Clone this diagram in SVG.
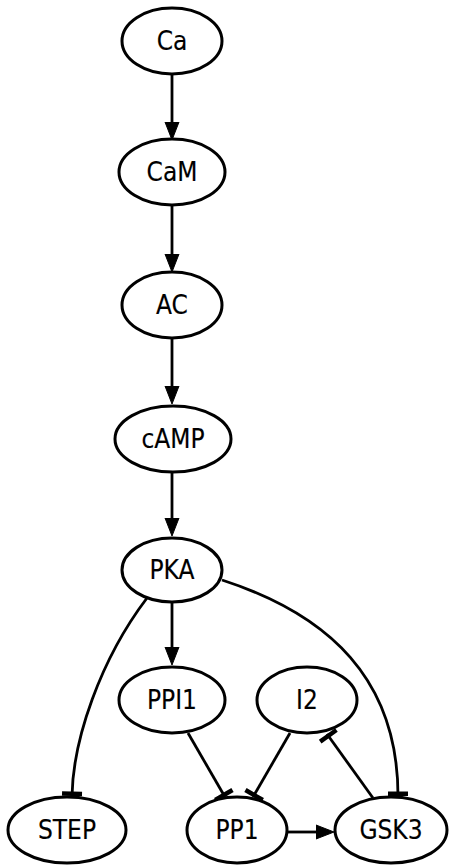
<svg xmlns="http://www.w3.org/2000/svg" width="450" height="866" viewBox="0 0 450 866">
<style>
.n ellipse{fill:#fff;stroke:#000;stroke-width:3}
.n text{font-family:"DejaVu Sans Condensed","DejaVu Sans",sans-serif;font-size:26px;fill:#000;stroke:#000;stroke-width:0.15;text-anchor:middle;dominant-baseline:central}
.e path{fill:none;stroke:#000;stroke-width:2.8}
.arr{marker-end:url(#arrow)}
.tee{marker-end:url(#tee)}
</style>
<defs>
<marker id="arrow" markerUnits="userSpaceOnUse" markerWidth="20" markerHeight="16" viewBox="0 -8 20 16" refX="0" refY="0" orient="auto">
<path d="M0,-7 L18,0 L0,7 z" fill="#000" stroke="#000" stroke-width="1"/>
</marker>
<marker id="tee" markerUnits="userSpaceOnUse" markerWidth="8" markerHeight="24" viewBox="-5 -12 8 24" refX="0" refY="0" orient="auto">
<path d="M-4.5,-10 H0 V10 H-4.5 z" fill="#000"/>
</marker>
</defs>
<g id="edges" class="e">
<path class="arr" d="M172,74 V122"/>
<path class="arr" d="M172,206 V254"/>
<path class="arr" d="M172,338 V386"/>
<path class="arr" d="M172,472 V518"/>
<path class="arr" d="M172,602 V647"/>
<path class="tee" d="M147,598 C100,660 73,740 72,796"/>
<path class="tee" d="M222,580 C330,615 398,680 398,796"/>
<path class="tee" d="M188,733 L225,797"/>
<path class="tee" d="M290,733 L253,797"/>
<path class="tee" d="M373,798 L327,734"/>
<path class="arr" d="M288,832 H316"/>
</g>
<g id="Ca" class="n"><ellipse cx="172" cy="41" rx="50" ry="33"/><text x="172" y="41">Ca</text></g>
<g id="CaM" class="n"><ellipse cx="172" cy="172" rx="53" ry="33"/><text x="172" y="172">CaM</text></g>
<g id="AC" class="n"><ellipse cx="172" cy="305" rx="50" ry="33"/><text x="172" y="305">AC</text></g>
<g id="cAMP" class="n"><ellipse cx="173" cy="439" rx="58" ry="33"/><text x="173" y="439">cAMP</text></g>
<g id="PKA" class="n"><ellipse cx="172" cy="570" rx="50" ry="32"/><text x="172" y="570">PKA</text></g>
<g id="PPI1" class="n"><ellipse cx="172" cy="700" rx="53" ry="33"/><text x="172" y="700">PPI1</text></g>
<g id="I2" class="n"><ellipse cx="307" cy="700" rx="50" ry="33"/><text x="307" y="700">I2</text></g>
<g id="STEP" class="n"><ellipse cx="67" cy="830" rx="59" ry="33"/><text x="67" y="830">STEP</text></g>
<g id="PP1" class="n"><ellipse cx="237" cy="830" rx="50" ry="33"/><text x="237" y="830">PP1</text></g>
<g id="GSK3" class="n"><ellipse cx="391" cy="830" rx="56" ry="33"/><text x="391" y="830">GSK3</text></g>
</svg>
